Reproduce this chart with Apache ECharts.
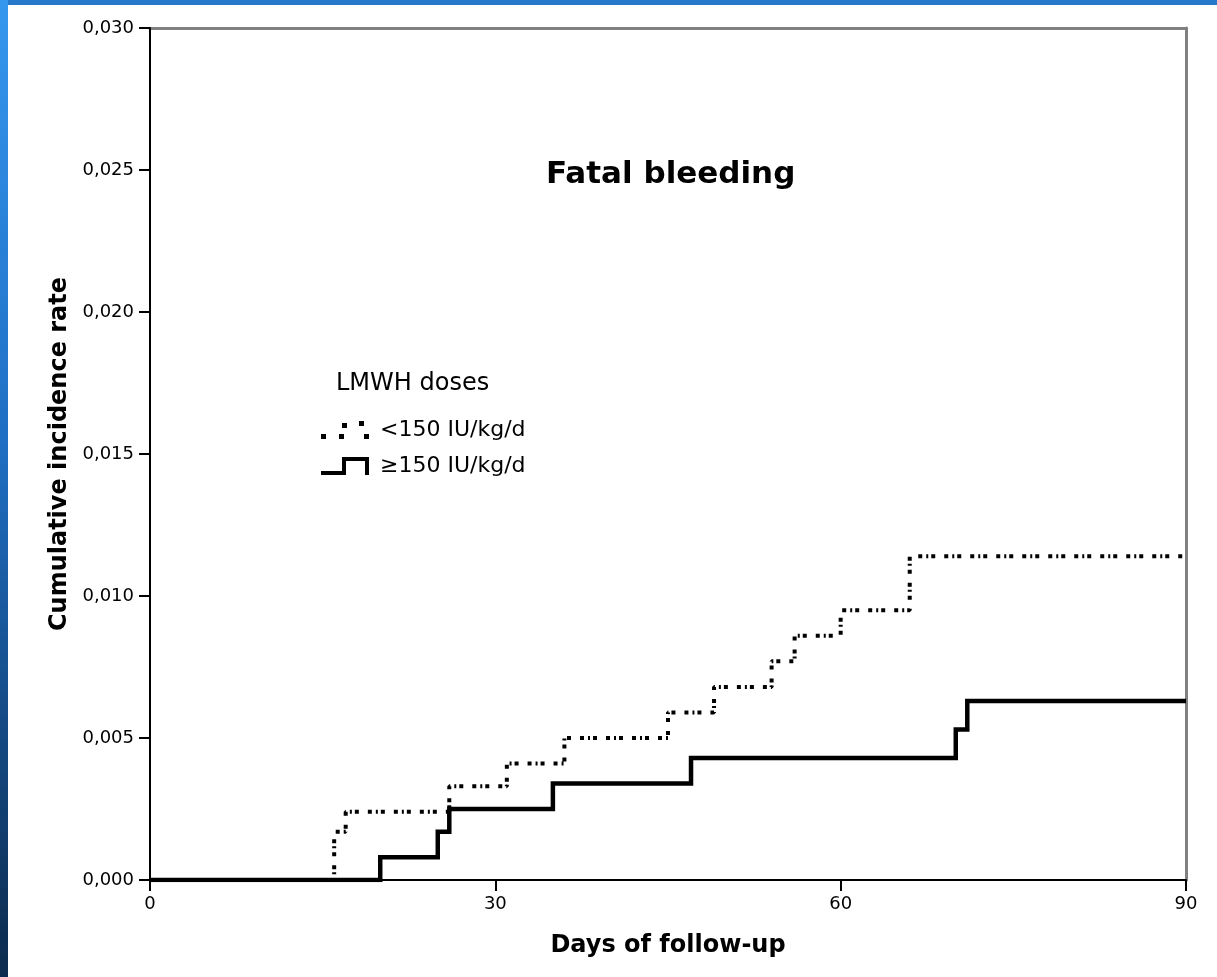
<!DOCTYPE html>
<html>
<head>
<meta charset="utf-8">
<title>Fatal bleeding</title>
<script src="https://cdn.jsdelivr.net/npm/echarts@6/dist/echarts.min.js"></script>
<style>
  html, body { margin: 0; padding: 0; background: #fff; }
  #wrap { position: relative; width: 1217px; height: 977px; overflow: hidden; background: #fff; }
  #topband { position: absolute; left: 0; top: 0; width: 1217px; height: 5px; background: #2778c9; }
  #leftband { position: absolute; left: 0; top: 0; width: 8px; height: 977px;
              background: linear-gradient(#3597ee, #1f6fc4 45%, #0c2a4c); }
  #chart { position: absolute; left: 0; top: 0; width: 1217px; height: 977px; }
</style>
</head>
<body>
<div id="wrap">
  <div id="topband"></div>
  <div id="leftband"></div>
  <div id="chart"></div>
</div>
<script>
// Cumulative incidence of fatal bleeding by LMWH dose (step curves)
const seriesNames = ['<150 IU/kg/d', '\u2265150 IU/kg/d'];

// < 150 IU/kg/d : day of each step and cumulative rate after it
const lowDoseDays = [0, 16, 17, 26, 31, 36, 45, 49, 54, 56, 60, 66, 90];
const lowDoseRate = [0, 0.0017, 0.0024, 0.0033, 0.0041, 0.0050, 0.0059, 0.0068, 0.0077, 0.0086, 0.0095, 0.0114, 0.0114];

// >= 150 IU/kg/d
const highDoseDays = [0, 20, 25, 26, 35, 47, 70, 71, 90];
const highDoseRate = [0, 0.0008, 0.0017, 0.0025, 0.0034, 0.0043, 0.0053, 0.0063, 0.0063];

// axis ranges
const xMin = 0, xMax = 90, xStep = 30;
const yMin = 0, yMax = 0.030, yStep = 0.005;

const FONT = '"DejaVu Sans", "Liberation Sans", Arial, sans-serif';

const pairs = (xs, ys) => xs.map((x, i) => [x, ys[i]]);

// legend glyphs: a dotted step and a solid step
const dottedIcon = 'path://M0,13h5v5h-5z M18,13h5v5h-5z M21,2h5v5h-5z M38,0h5v5h-5z M43,13h5v5h-5z';
const solidIcon = 'path://M0,14L21,14L21,0L48,0L48,18L44,18L44,4L25,4L25,18L0,18Z';

const chart = echarts.init(document.getElementById('chart'), null, { renderer: 'canvas' });

chart.setOption({
  animation: false,
  backgroundColor: 'transparent',
  textStyle: { fontFamily: FONT, color: '#000' },
  title: [
    {
      text: 'Fatal bleeding',
      left: 541, top: 154,
      textStyle: { fontFamily: FONT, fontSize: 31, fontWeight: 'bold', color: '#000' }
    },
    {
      text: 'LMWH doses',
      left: 331, top: 367,
      textStyle: { fontFamily: FONT, fontSize: 24, fontWeight: 'normal', color: '#000' }
    }
  ],
  legend: {
    orient: 'vertical',
    left: 316, top: 414,
    itemWidth: 48, itemHeight: 18, itemGap: 14,
    selectedMode: false,
    itemStyle: { color: '#000', borderWidth: 0 },
    textStyle: { fontFamily: FONT, fontSize: 22, lineHeight: 22, color: '#000', padding: [0, 0, 0, 6] },
    data: [
      { name: seriesNames[0], icon: dottedIcon },
      { name: seriesNames[1], icon: solidIcon }
    ]
  },
  grid: { left: 150, right: 31, top: 28, bottom: 97 },
  xAxis: [
    {
      type: 'value', min: xMin, max: xMax, interval: xStep,
      name: 'Days of follow-up', nameLocation: 'middle', nameGap: 54,
      nameTextStyle: { fontFamily: FONT, fontSize: 24, fontWeight: 'bold', color: '#000' },
      axisLine: { onZero: false, lineStyle: { color: '#000', width: 2 } },
      axisTick: { length: 11, lineStyle: { color: '#000', width: 2 } },
      axisLabel: { margin: 15, fontFamily: FONT, fontSize: 18, color: '#000' },
      splitLine: { show: false },
      z: 5
    },
    {
      // frame line along the top of the plot
      type: 'value', min: xMin, max: xMax, position: 'top',
      axisLine: { onZero: false, lineStyle: { color: '#808080', width: 3 } },
      axisTick: { show: false }, axisLabel: { show: false }, splitLine: { show: false }
    }
  ],
  yAxis: [
    {
      type: 'value', min: yMin, max: yMax, interval: yStep,
      name: 'Cumulative incidence rate', nameLocation: 'middle', nameGap: 75, nameRotate: 90,
      nameTextStyle: { fontFamily: FONT, fontSize: 24, fontWeight: 'bold', color: '#000' },
      axisLine: { onZero: false, lineStyle: { color: '#000', width: 2 } },
      axisTick: { length: 11, lineStyle: { color: '#000', width: 2 } },
      axisLabel: {
        margin: 16, fontFamily: FONT, fontSize: 18, color: '#000',
        formatter: v => v.toFixed(3).replace('.', ',')
      },
      splitLine: { show: false },
      z: 5
    },
    {
      // frame line along the right of the plot
      type: 'value', min: yMin, max: yMax, position: 'right',
      axisLine: { onZero: false, lineStyle: { color: '#808080', width: 3 } },
      axisTick: { show: false }, axisLabel: { show: false }, splitLine: { show: false }
    }
  ],
  series: [
    {
      name: seriesNames[0],
      type: 'line', step: 'end', showSymbol: false, symbol: 'none',
      xAxisIndex: 0, yAxisIndex: 0,
      data: pairs(lowDoseDays, lowDoseRate),
      itemStyle: { color: '#000' },
      lineStyle: { color: '#000', width: 4, type: [4, 4, 2, 3, 4, 9], cap: 'butt' },
      z: 3
    },
    {
      name: seriesNames[1],
      type: 'line', step: 'end', showSymbol: false, symbol: 'none',
      xAxisIndex: 0, yAxisIndex: 0,
      data: pairs(highDoseDays, highDoseRate),
      itemStyle: { color: '#000' },
      lineStyle: { color: '#000', width: 4.5, join: 'miter' },
      z: 4
    }
  ]
});
</script>
</body>
</html>
